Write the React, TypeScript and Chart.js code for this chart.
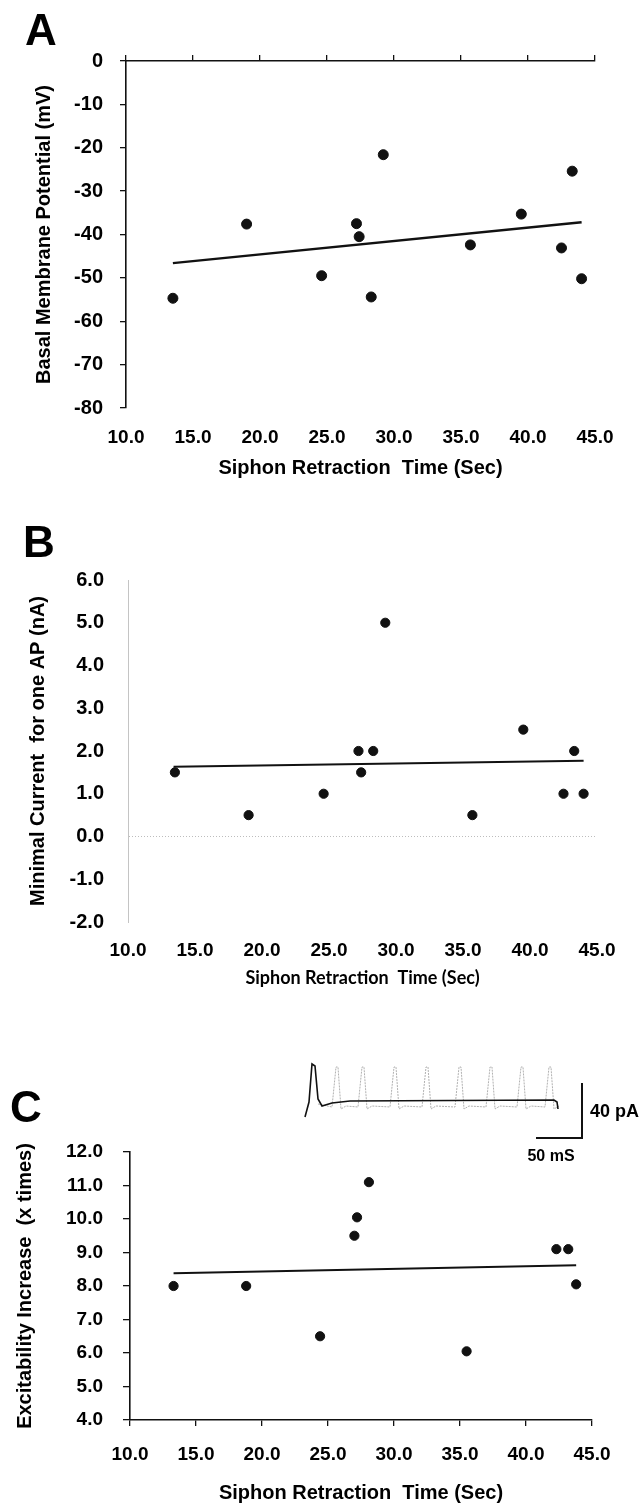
import React, { useEffect, useRef } from "react";
import { Chart, registerables } from "chart.js";

Chart.register(...registerables);

const FONT = "'Liberation Sans', Arial, Helvetica, sans-serif";
Chart.defaults.font.family = FONT;
Chart.defaults.color = "#000";

// ---- shared x axis ----
const xTickValues = [10, 15, 20, 25, 30, 35, 40, 45];
const xTitle = "Siphon Retraction  Time (Sec)";

// ---- Panel A ----
const timeAB = [13.5, 19.0, 24.6, 27.2, 27.4, 28.3, 29.2, 35.7, 39.5, 42.5, 43.3, 44.0];
const potentialA = [-54.7, -37.6, -49.5, -37.5, -40.5, -54.4, -21.6, -42.4, -35.3, -43.1, -25.4, -50.2];
const trendXA = [13.5, 44.0];
const trendYA = [-46.6, -37.2];
const yTicksA = [0, -10, -20, -30, -40, -50, -60, -70, -80];

// ---- Panel B ----
const currentB = [1.5, 0.5, 1.0, 2.0, 1.5, 2.0, 5.0, 0.5, 2.5, 1.0, 2.0, 1.0];
const trendXB = [13.4, 44.0];
const trendYB = [1.63, 1.77];
const yTicksB = [6, 5, 4, 3, 2, 1, 0, -1, -2];

// ---- Panel C ----
const timeC = [13.3, 18.8, 24.4, 27.0, 27.2, 28.1, 35.5, 42.3, 43.2, 43.8];
const excitC = [8.0, 8.0, 6.5, 9.5, 10.05, 11.1, 6.05, 9.1, 9.1, 8.05];
const trendXC = [13.3, 43.8];
const trendYC = [8.38, 8.62];
const yTicksC = [12, 11, 10, 9, 8, 7, 6, 5, 4];

const INK = "#111";

const fixW = (w: number) => (s: any) => { s.width = w; };
const fixH = (h: number) => (s: any) => { s.height = h; };
const pts = (xs: number[], ys: number[]) => xs.map((x, i) => ({ x, y: ys[i] }));

const letterPlugin = (letter: string, x: number, y: number) => ({
  id: "panelLetter" + letter,
  afterDraw(chart: any) {
    const c = chart.ctx;
    c.save();
    c.font = `bold 44px ${FONT}`;
    c.fillStyle = "#000";
    c.textBaseline = "alphabetic";
    c.textAlign = "left";
    c.fillText(letter, x, y);
    c.restore();
  },
});

// decorative recording inset of panel C (canvas coordinates of that canvas)
const insetPlugin = {
  id: "inset",
  afterDraw(chart: any) {
    const c = chart.ctx;
    const oy = -1010;
    c.save();
    // grey spikes
    c.strokeStyle = "#b0b0b0";
    c.lineWidth = 1;
    c.setLineDash([2, 1]);
    const spikes = [337, 363, 395, 427, 460, 491, 522, 550];
    c.beginPath();
    c.moveTo(318, 1104 + oy);
    spikes.forEach((sx) => {
      c.lineTo(sx - 5, 1107 + oy);
      c.lineTo(sx - 1, 1067 + oy);
      c.lineTo(sx + 1, 1067 + oy);
      c.lineTo(sx + 4, 1109 + oy);
      c.lineTo(sx + 9, 1106 + oy);
    });
    c.stroke();
    c.setLineDash([]);
    // black trace
    c.strokeStyle = "#111";
    c.lineWidth = 1.6;
    c.beginPath();
    c.moveTo(305, 1117 + oy);
    c.lineTo(309, 1102 + oy);
    c.lineTo(312, 1064 + oy);
    c.lineTo(315, 1066 + oy);
    c.lineTo(318, 1099 + oy);
    c.lineTo(322, 1106 + oy);
    c.lineTo(332, 1103 + oy);
    c.lineTo(350, 1101 + oy);
    c.lineTo(554, 1100 + oy);
    c.lineTo(557, 1102 + oy);
    c.lineTo(558, 1109 + oy);
    c.stroke();
    // scale bar
    c.lineWidth = 2;
    c.beginPath();
    c.moveTo(582, 1083 + oy);
    c.lineTo(582, 1138 + oy);
    c.lineTo(536, 1138 + oy);
    c.stroke();
    c.fillStyle = "#000";
    c.font = `bold 18px ${FONT}`;
    c.textBaseline = "middle";
    c.textAlign = "left";
    c.fillText("40 pA", 590, 1112 + oy);
    c.textAlign = "center";
    c.font = `bold 16px ${FONT}`;
    c.fillText("50 mS", 551, 1157 + oy);
    c.restore();
  },
};

const fmt1 = (v: any) => Number(v).toFixed(1);

function baseX(pad: number, titleFont: any, titlePadBottom: number, h: number, withAxis: boolean) {
  return {
    type: "linear",
    position: "bottom",
    min: xTickValues[0],
    max: xTickValues[xTickValues.length - 1],
    afterBuildTicks: (s: any) => { s.ticks = xTickValues.map((v) => ({ value: v })); },
    ticks: { callback: fmt1, font: { size: 19, weight: "bold" }, color: "#000", padding: pad, maxRotation: 0, autoSkip: false },
    grid: withAxis
      ? { display: true, drawOnChartArea: false, drawTicks: true, tickLength: 6, color: INK, lineWidth: 1.3 }
      : { display: false, drawTicks: false },
    border: withAxis ? { display: true, color: INK, width: 1.6 } : { display: false },
    title: { display: true, text: xTitle, font: titleFont, color: "#000", padding: { top: 0, bottom: titlePadBottom } },
    afterFit: fixH(h),
  };
}

function makeConfig(panel: "A" | "B" | "C"): any {
  if (panel === "A") {
    return {
      type: "scatter",
      data: {
        datasets: [
          { type: "scatter", data: pts(timeAB, potentialA), pointRadius: 5, backgroundColor: INK, borderColor: INK, borderWidth: 1 },
          { type: "line", data: pts(trendXA, trendYA), borderColor: INK, borderWidth: 2.5, pointRadius: 0, fill: false },
        ],
      },
      options: {
        animation: false, responsive: false, maintainAspectRatio: false,
        layout: { padding: { left: 0, right: 49, top: 0, bottom: 0 } },
        plugins: { legend: { display: false }, tooltip: { enabled: false } },
        scales: {
          x: baseX(18, { size: 20, weight: "bold" }, 20, 92, false),
          xTop: {
            type: "linear", position: "top", min: 10, max: 45,
            afterBuildTicks: (s: any) => { s.ticks = xTickValues.map((v) => ({ value: v })); },
            ticks: { display: false },
            grid: { display: true, drawOnChartArea: false, drawTicks: true, tickLength: 6, color: INK, lineWidth: 1.3 },
            border: { display: true, color: INK, width: 1.6 },
            afterFit: fixH(61),
          },
          y: {
            type: "linear", position: "left", min: -80, max: 0,
            afterBuildTicks: (s: any) => { s.ticks = yTicksA.map((v) => ({ value: v })); },
            ticks: { font: { size: 20, weight: "bold" }, color: "#000", padding: 17 },
            grid: { display: true, drawOnChartArea: false, drawTicks: true, tickLength: 6, color: INK, lineWidth: 1.3 },
            border: { display: true, color: INK, width: 1.6 },
            title: { display: true, text: "Basal Membrane Potential (mV)", font: { size: 20, weight: "bold" }, color: "#000", padding: { top: 32, bottom: 0 } },
            afterFit: fixW(126),
          },
        },
      },
      plugins: [letterPlugin("A", 25, 45)],
    };
  }
  if (panel === "B") {
    return {
      type: "scatter",
      data: {
        datasets: [
          { type: "scatter", data: pts(timeAB, currentB), pointRadius: 4.6, backgroundColor: INK, borderColor: INK, borderWidth: 1 },
          { type: "line", data: pts(trendXB, trendYB), borderColor: INK, borderWidth: 2, pointRadius: 0, fill: false },
        ],
      },
      options: {
        animation: false, responsive: false, maintainAspectRatio: false,
        layout: { padding: { left: 0, right: 47, top: 80, bottom: 0 } },
        plugins: { legend: { display: false }, tooltip: { enabled: false } },
        scales: {
          x: baseX(17, { size: 18, weight: "bold", family: "Lato, 'Open Sans', sans-serif" }, 21, 88, false),
          y: {
            type: "linear", position: "left", min: -2, max: 6,
            afterBuildTicks: (s: any) => { s.ticks = yTicksB.map((v) => ({ value: v })); },
            ticks: { callback: fmt1, font: { size: 20, weight: "bold" }, color: "#000", padding: 24 },
            grid: {
              display: true, drawOnChartArea: true, drawTicks: false,
              color: (ctx: any) => (ctx.tick && ctx.tick.value === 0 ? "#bdbdbd" : "rgba(0,0,0,0)"),
              lineWidth: 1,
            },
            border: { display: true, color: "#c4c4c4", width: 1, dash: [1, 2] },
            title: { display: true, text: "Minimal Current  for one AP (nA)", font: { size: 20, weight: "bold" }, color: "#000", padding: { top: 26, bottom: 0 } },
            afterFit: fixW(128),
          },
        },
      },
      plugins: [letterPlugin("B", 23, 57)],
    };
  }
  return {
    type: "scatter",
    data: {
      datasets: [
        { type: "scatter", data: pts(timeC, excitC), pointRadius: 4.6, backgroundColor: INK, borderColor: INK, borderWidth: 1 },
        { type: "line", data: pts(trendXC, trendYC), borderColor: INK, borderWidth: 2, pointRadius: 0, fill: false },
      ],
    },
    options: {
      animation: false, responsive: false, maintainAspectRatio: false,
      layout: { padding: { left: 0, right: 52, top: 142, bottom: 0 } },
      plugins: { legend: { display: false }, tooltip: { enabled: false } },
      scales: {
        x: baseX(17, { size: 20, weight: "bold" }, 0, 85, true),
        y: {
          type: "linear", position: "left", min: 4, max: 12,
          afterBuildTicks: (s: any) => { s.ticks = yTicksC.map((v) => ({ value: v })); },
          ticks: { callback: fmt1, font: { size: 19, weight: "bold" }, color: "#000", padding: 20 },
          grid: { display: true, drawOnChartArea: false, drawTicks: true, tickLength: 7, color: INK, lineWidth: 1.3 },
          border: { display: true, color: INK, width: 1.6 },
          title: { display: true, text: "Excitability Increase  (x times)", font: { size: 20, weight: "bold" }, color: "#000", padding: { top: 13, bottom: 0 } },
          afterFit: fixW(130),
        },
      },
    },
    plugins: [letterPlugin("C", 10, 112), insetPlugin],
  };
}

function Panel({ panel, top, height }: { panel: "A" | "B" | "C"; top: number; height: number }) {
  const ref = useRef<HTMLCanvasElement | null>(null);
  useEffect(() => {
    if (!ref.current) return;
    const chart = new Chart(ref.current, makeConfig(panel));
    return () => chart.destroy();
  }, [panel]);
  return (
    <canvas
      ref={ref}
      width={644}
      height={height}
      style={{ position: "absolute", left: 0, top, width: 644, height, display: "block" }}
    />
  );
}

export default function App() {
  return (
    <div style={{ position: "absolute", left: 0, top: 0, width: 644, height: 1505, background: "#fff", overflow: "hidden" }}>
      <Panel panel="A" top={0} height={500} />
      <Panel panel="B" top={500} height={510} />
      <Panel panel="C" top={1010} height={495} />
    </div>
  );
}
